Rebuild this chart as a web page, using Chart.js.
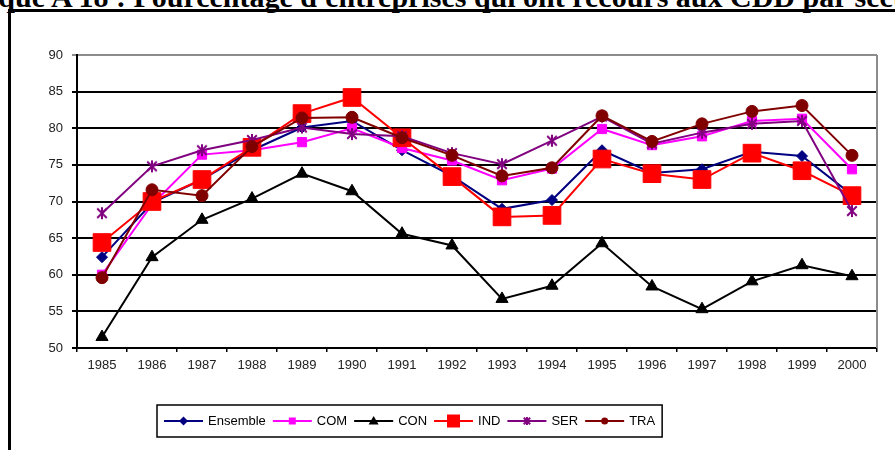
<!DOCTYPE html>
<html>
<head>
<meta charset="utf-8">
<script src="https://cdn.jsdelivr.net/npm/chart.js@4"></script>
<style>
  html, body { margin: 0; padding: 0; background: #fff; }
  #wrap { position: relative; width: 895px; height: 450px; overflow: hidden; }
  #title { position: absolute; left: -95px; top: -18px; font: bold 30px "Liberation Serif", "Times New Roman", serif; line-height: 30px; white-space: nowrap; color: #000; }
  #frame { position: absolute; left: 8px; top: 9px; width: 900px; height: 450px; border-left: 3px solid #000; border-top: 3px solid #000; }
  canvas { position: absolute; left: 0; top: 0; }
</style>
</head>
<body>
<div id="wrap">
  <div id="frame"></div>
  <div id="title">Graphique A 18 : Pourcentage d'entreprises qui ont recours aux CDD par secteur</div>
  <canvas id="lineChart" width="895" height="450"></canvas>
</div>
<script>
const years = ['1985', '1986', '1987', '1988', '1989', '1990', '1991', '1992',
               '1993', '1994', '1995', '1996', '1997', '1998', '1999', '2000'];

const ensemble = [62.4, 69.8, 73.0, 77.0, 80.1, 81.0, 77.0, 73.5, 69.0, 70.2, 77.0, 73.9, 74.4, 76.8, 76.2, 70.9];
const com      = [60.0, 69.6, 76.4, 77.0, 78.1, 80.0, 77.3, 75.6, 72.9, 74.5, 79.9, 77.7, 78.9, 81.0, 81.3, 74.4];
const con      = [51.5, 62.4, 67.5, 70.4, 73.8, 71.4, 65.6, 64.0, 56.7, 58.5, 64.3, 58.4, 55.3, 59.1, 61.3, 59.8];
const ind      = [64.4, 70.0, 73.0, 77.4, 82.0, 84.2, 78.7, 73.4, 67.9, 68.1, 75.8, 73.8, 73.0, 76.6, 74.2, 70.8];
const ser      = [68.4, 74.8, 77.0, 78.4, 80.1, 79.2, 78.9, 76.6, 75.1, 78.3, 81.6, 77.9, 79.4, 80.6, 81.0, 68.7];
const tra      = [59.6, 71.6, 70.8, 77.5, 81.4, 81.5, 78.7, 76.3, 73.5, 74.6, 81.7, 78.2, 80.6, 82.3, 83.1, 76.3];

const yTicks = { min: 50, max: 90, step: 5 };

// asterisk marker like the spreadsheet one (x plus a vertical bar)
function makeAsterisk(color, size) {
    const c = document.createElement('canvas');
    c.width = size;
    c.height = size;
    const g = c.getContext('2d');
    const m = size / 2, r = size / 2 - 1, d = r * 0.8;
    g.strokeStyle = color;
    g.lineWidth = 2;
    g.beginPath();
    g.moveTo(m - d, m - d); g.lineTo(m + d, m + d);
    g.moveTo(m + d, m - d); g.lineTo(m - d, m + d);
    g.moveTo(m, m - r); g.lineTo(m, m + r);
    g.stroke();
    return c;
}

const starBig = makeAsterisk('#800080', 14);
const starSmall = makeAsterisk('#800080', 10);

function drawMarker(ctx, style, x, y, r, color) {
    ctx.fillStyle = color;
    ctx.beginPath();
    if (style === 'rectRot') {
        ctx.moveTo(x, y - r); ctx.lineTo(x + r, y); ctx.lineTo(x, y + r); ctx.lineTo(x - r, y);
    } else if (style === 'rect') {
        ctx.rect(x - r, y - r, 2 * r, 2 * r);
    } else if (style === 'triangle') {
        ctx.moveTo(x, y - r); ctx.lineTo(x + r, y + r * 0.7); ctx.lineTo(x - r, y + r * 0.7);
    } else if (style === 'circle') {
        ctx.arc(x, y, r, 0, Math.PI * 2);
    } else {
        ctx.drawImage(style, x - style.width / 2, y - style.height / 2);
        return;
    }
    ctx.closePath();
    ctx.fill();
}

const legendPlugin = {
    id: 'excelLegend',
    afterDraw(chart) {
        const ctx = chart.ctx;
        const area = chart.chartArea;
        ctx.save();

        // grey right edge of the plot area
        ctx.strokeStyle = '#8c8c8c';
        ctx.lineWidth = 2;
        ctx.beginPath();
        ctx.moveTo(area.right, area.top);
        ctx.lineTo(area.right, area.bottom);
        ctx.stroke();

        ctx.font = '13px "Liberation Sans", Arial, sans-serif';
        const sets = chart.data.datasets;
        const lineLen = 39, gap = 5, itemGap = 7, pad = 7;
        let total = pad * 2;
        sets.forEach(d => total += lineLen + gap + ctx.measureText(d.label).width + itemGap);
        total -= itemGap;

        const h = 32;
        const top = area.bottom + 57;
        const left = Math.round(410 - total / 2);
        ctx.fillStyle = '#fff';
        ctx.fillRect(left, top, total, h);
        ctx.strokeStyle = '#000';
        ctx.lineWidth = 1.5;
        ctx.strokeRect(left, top, total, h);

        let x = left + pad;
        const y = top + h / 2;
        sets.forEach(d => {
            ctx.strokeStyle = d.borderColor;
            ctx.lineWidth = 2;
            ctx.beginPath();
            ctx.moveTo(x, y);
            ctx.lineTo(x + lineLen, y);
            ctx.stroke();
            drawMarker(ctx, d.legendStyle, x + lineLen / 2, y, d.legendSize, d.pointBackgroundColor);
            ctx.fillStyle = '#000';
            ctx.textAlign = 'left';
            ctx.textBaseline = 'middle';
            ctx.fillText(d.label, x + lineLen + gap, y);
            x += lineLen + gap + ctx.measureText(d.label).width + itemGap;
        });
        ctx.restore();
    }
};

function makeSet(label, values, color, style, radius, order, legendStyle, legendSize) {
    return {
        label: label,
        data: values,
        borderColor: color,
        backgroundColor: color,
        pointBackgroundColor: color,
        pointBorderColor: color,
        borderWidth: 2,
        pointStyle: style,
        pointRadius: radius,
        pointHoverRadius: radius,
        pointBorderWidth: 1,
        tension: 0,
        order: order,
        legendStyle: legendStyle,
        legendSize: legendSize
    };
}

const lineChart = new Chart(document.getElementById('lineChart'), {
    type: 'line',
    data: {
        labels: years,
        datasets: [
            makeSet('Ensemble', ensemble, '#000080', 'rectRot', 5.5, 6, 'rectRot', 4.5),
            makeSet('COM', com, '#ff00ff', 'rect', 6.5, 5, 'rect', 3.5),
            makeSet('CON', con, '#000000', 'triangle', 7, 4, 'triangle', 5),
            makeSet('IND', ind, '#ff0000', 'rect', 12.5, 3, 'rect', 6.5),
            makeSet('SER', ser, '#800080', starBig, 7, 2, starSmall, 5),
            makeSet('TRA', tra, '#800000', 'circle', 6, 1, 'circle', 3.5)
        ]
    },
    options: {
        responsive: false,
        animation: false,
        layout: {
            padding: { top: 55, right: 18, bottom: 72, left: 0 }
        },
        plugins: {
            legend: { display: false },
            tooltip: { enabled: false }
        },
        scales: {
            x: {
                offset: true,
                grid: {
                    offset: true,
                    drawOnChartArea: false,
                    drawTicks: true,
                    tickLength: 4,
                    color: '#000',
                    lineWidth: 1.5
                },
                border: { color: '#000', width: 2 },
                ticks: {
                    color: '#222',
                    font: { family: '"Liberation Sans", Arial, sans-serif', size: 13 },
                    padding: 6,
                    maxRotation: 0,
                    autoSkip: false
                },
                afterFit: scale => { scale.height = 30; }
            },
            y: {
                min: yTicks.min,
                max: yTicks.max,
                grid: {
                    color: c => (c.tick && c.tick.value === yTicks.max) ? '#8c8c8c' : '#000',
                    lineWidth: 2,
                    tickLength: 5
                },
                border: { color: '#000', width: 2 },
                ticks: {
                    stepSize: yTicks.step,
                    color: '#222',
                    font: { family: '"Liberation Sans", Arial, sans-serif', size: 13 },
                    padding: 9
                },
                afterFit: scale => { scale.width = 77; }
            }
        }
    },
    plugins: [legendPlugin]
});
</script>
</body>
</html>
